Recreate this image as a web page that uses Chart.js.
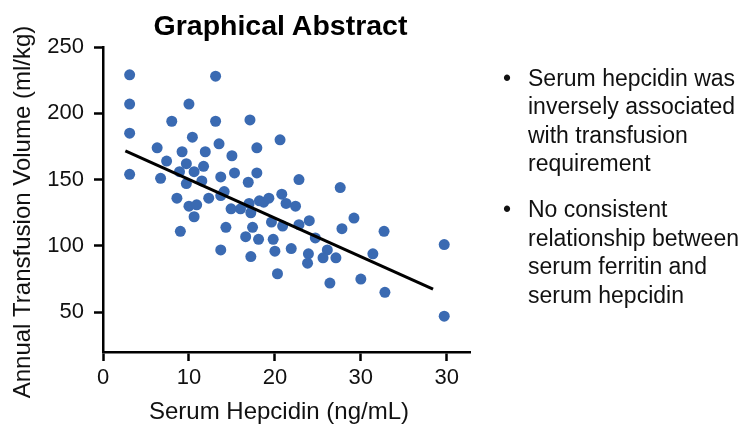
<!DOCTYPE html>
<html>
<head>
<meta charset="utf-8">
<title>Graphical Abstract</title>
<script src="https://cdn.jsdelivr.net/npm/chart.js@4"></script>
<style>
    body { margin: 0; background: #fff; }
    #wrap { position: relative; width: 751px; height: 424px; overflow: hidden; font-family: 'Liberation Sans', Arial, sans-serif; }
    #chart { position: absolute; left: 0; top: 0; }
    #title { position: absolute; left: 0; top: 11px; width: 561px; text-align: center; font-weight: bold; font-size: 28.5px; line-height: 28px; color: #000; }
    #notes { position: absolute; left: 528px; top: 64px; margin: 0; padding: 0; list-style: none; font-size: 23px; line-height: 28.4px; color: #111; }
    #notes li { position: relative; margin-bottom: 17.7px; }
    #notes li::before { content: '\2022'; position: absolute; left: -25px; top: 0; }
</style>
</head>
<body>
<div id="wrap">
    <canvas id="chart" width="751" height="424"></canvas>
    <div id="title">Graphical Abstract</div>
    <ul id="notes">
        <li>Serum hepcidin was<br>inversely associated<br>with transfusion<br>requirement</li>
        <li>No consistent<br>relationship between<br>serum ferritin and<br>serum hepcidin</li>
    </ul>
</div>
<script>
// serum hepcidin (axis units) and annual transfusion volume (ml/kg)
const hepcidin = [
    3.1, 13.1, 3.1, 10.0, 8.0, 13.1, 17.1, 20.6, 3.1, 10.4,
    6.3, 9.2, 11.9, 13.5, 17.9, 15.0, 7.4, 9.7, 11.7, 8.9,
    10.6, 15.3, 17.9, 3.1, 6.7, 11.5, 13.7, 16.9, 9.7, 14.1,
    8.6, 10.0, 10.9, 12.3, 13.7, 10.6, 14.9, 16.0, 17.0, 17.2,
    18.2, 18.7, 19.3, 20.8, 19.6, 9.0, 14.3, 17.4, 16.6, 18.1,
    19.8, 13.7, 20.0, 17.2, 20.3, 22.8, 27.6, 21.3, 22.4, 29.2,
    24.0, 20.9, 22.8, 27.8, 32.7, 24.7, 39.7, 21.9, 26.1, 31.4,
    23.9, 25.6, 27.1, 23.8, 26.4, 30.0, 32.8, 39.7
];
const transfusion = [
    229, 228, 207, 207, 194, 194, 195, 180, 185, 182,
    174, 171, 171, 177, 174, 168, 164, 162, 160, 156,
    156, 155, 155, 154, 151, 149, 152, 148, 147, 141,
    136, 130, 131, 136, 138, 122, 128, 128, 132, 125,
    134, 133, 136, 139, 118, 111, 114, 114, 107, 105,
    105, 97, 96, 92, 79, 150, 144, 132, 130, 121,
    119, 115, 116, 113, 111, 106, 101, 98, 97, 94,
    94, 91, 91, 87, 72, 75, 65, 47
];
// fitted regression line end points
const fitX = [2.6, 38.4];
const fitY = [171.6, 67.4];

const xTickValues = [0, 10, 20, 30, 40];
const xTickLabels = ['0', '10', '20', '30', '30'];
const yTickValues = [50, 100, 150, 200, 250];

const xTitle = 'Serum Hepcidin (ng/mL)';
const yTitle = 'Annual Transfusion Volume (ml/kg)';

const points = hepcidin.map((x, i) => ({ x: x, y: transfusion[i] }));
const fitLine = fitX.map((x, i) => ({ x: x, y: fitY[i] }));

Chart.defaults.font.family = "'Liberation Sans', Arial, sans-serif";
Chart.defaults.color = '#111';

// axis titles sit a little off-centre in the original, so draw them here
const axisTitles = {
    id: 'axisTitles',
    afterDraw(chart) {
        const { ctx, chartArea } = chart;
        ctx.save();
        ctx.fillStyle = '#111';
        ctx.font = "24px 'Liberation Sans', Arial, sans-serif";
        ctx.textAlign = 'center';
        ctx.textBaseline = 'alphabetic';
        ctx.fillText(xTitle, chartArea.left + 176, chartArea.bottom + 67);
        ctx.translate(30, chartArea.top + 165);
        ctx.rotate(-Math.PI / 2);
        ctx.fillText(yTitle, 0, 0);
        ctx.restore();
    }
};

new Chart(document.getElementById('chart'), {
    type: 'scatter',
    data: {
        datasets: [{
            type: 'line',
            label: 'Fit',
            data: fitLine,
            borderColor: '#000',
            borderWidth: 3,
            pointRadius: 0,
            fill: false,
            order: 0
        }, {
            label: 'Patients',
            data: points,
            backgroundColor: '#3a6ab2',
            borderColor: '#3a6ab2',
            borderWidth: 0,
            pointRadius: 5.5,
            order: 1
        }]
    },
    options: {
        responsive: false,
        animation: false,
        layout: { padding: { left: 0, right: 281, top: 47, bottom: 0 } },
        plugins: {
            legend: { display: false },
            tooltip: { enabled: false }
        },
        scales: {
            x: {
                type: 'linear',
                min: 0,
                max: 42.7,
                afterBuildTicks: scale => { scale.ticks = xTickValues.map(v => ({ value: v })); },
                afterFit: scale => { scale.height = 72; },
                border: { display: true, color: '#000', width: 2.5 },
                grid: { drawOnChartArea: false, color: '#000', tickLength: 9, tickWidth: 2.5 },
                ticks: {
                    padding: 4,
                    font: { size: 22 },
                    callback: (value, index) => xTickLabels[index]
                }
            },
            y: {
                min: 20,
                max: 250,
                afterBuildTicks: scale => { scale.ticks = yTickValues.map(v => ({ value: v })); },
                afterFit: scale => { scale.width = 103; },
                border: { display: true, color: '#000', width: 2.5 },
                grid: { drawOnChartArea: false, color: '#000', tickLength: 9, tickWidth: 2.5 },
                ticks: { padding: 10, font: { size: 22 } }
            }
        }
    },
    plugins: [axisTitles]
});
</script>
</body>
</html>
